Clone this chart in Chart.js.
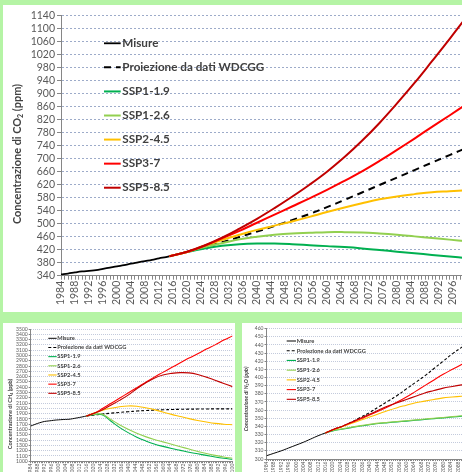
<!DOCTYPE html>
<html>
<head>
<meta charset="utf-8">
<script src="https://cdn.jsdelivr.net/npm/chart.js@4.4.0/dist/chart.umd.min.js"></script>
<style>
  html, body { margin: 0; padding: 0; width: 462px; height: 472px; overflow: hidden; background: #b5f4a5; }
  .panel { position: absolute; background: #ffffff; overflow: hidden; }
  #pCO2 { left: 3px; top: 5px; width: 459px; height: 307px; }
  #pCH4 { left: 3px; top: 323px; width: 232px; height: 149px; }
  #pN2O { left: 242px; top: 323px; width: 220px; height: 149px; }
  canvas { position: absolute; left: 0; top: 0; }
  .soft { filter: blur(0.35px); }
</style>
</head>
<body>
<div class="panel" id="pCO2"><canvas id="cCO2" width="480" height="307"></canvas></div>
<div class="panel" id="pCH4"><canvas id="cCH4" class="soft" width="236" height="160"></canvas></div>
<div class="panel" id="pN2O"><canvas id="cN2O" class="soft" width="250" height="160"></canvas></div>
<script>
// ---- series names ----
const seriesNames = ['Misure', 'Proiezione da dati WDCGG', 'SSP1-1.9', 'SSP1-2.6', 'SSP2-4.5', 'SSP3-7', 'SSP5-8.5'];

// ---- x axis: one tick per year, a label every 4 years ----
const firstYear = 1984;
const lastYear = 2100;
const labelEvery = 4;

// ---- CO2 (ppm) ----
const co2MeasYears = [1984, 1986, 1988, 1990, 1992, 1994, 1996, 1998, 2000, 2002, 2004, 2006, 2008, 2010, 2012, 2014, 2015];
const co2Meas      = [344, 346.5, 350, 353, 355, 357, 361, 365, 369, 372.5, 377, 381, 385, 389, 393.5, 397.5, 400];
const co2ScenYears = [2015, 2020, 2025, 2030, 2035, 2040, 2045, 2050, 2055, 2060, 2065, 2070, 2075, 2080, 2085, 2090, 2095, 2100];
const co2Ssp119 = [400, 413, 424, 432, 437, 439, 439, 437, 434, 431, 428, 424, 419, 414, 409, 404, 399, 394];
const co2Ssp126 = [400, 413, 428, 440, 452, 460, 466, 470, 472, 474, 474, 473, 470, 466, 461, 456, 451, 446];
const co2Ssp245 = [400, 413, 432, 450, 466, 481, 494, 507, 521, 536, 550, 563, 575, 584, 591, 597, 600, 603];
const co2Ssp370 = [400, 413, 432, 455, 478, 503, 528, 553, 578, 604, 632, 661, 693, 727, 762, 798, 833, 869];
const co2Ssp585 = [400, 414, 433, 457, 485, 515, 548, 583, 620, 660, 705, 755, 810, 870, 933, 1000, 1068, 1138];
const co2ProjYears = [2020, 2025, 2030, 2035, 2040, 2045, 2050, 2055, 2060, 2065, 2070, 2075, 2080, 2085, 2090, 2095, 2100];
const co2Proj      = [413, 428, 443, 459, 476, 493, 511, 530, 551, 573, 596, 619, 642, 665, 688, 711, 734];
const co2Ticks = { min: 340, max: 1140, step: 40 };

// ---- CH4 (ppb) ----
const ch4MeasYears = [1984, 1986, 1988, 1990, 1992, 1994, 1996, 1998, 2000, 2002, 2004, 2006, 2008, 2010, 2012, 2014, 2016];
const ch4Meas      = [1665, 1690, 1715, 1735, 1752, 1760, 1768, 1777, 1782, 1787, 1790, 1793, 1803, 1815, 1827, 1840, 1855];
const ch4ScenYears = [2016, 2020, 2025, 2030, 2035, 2040, 2045, 2050, 2055, 2060, 2065, 2070, 2075, 2080, 2085, 2090, 2095, 2100];
const ch4Ssp119 = [1855, 1880, 1880, 1760, 1640, 1540, 1455, 1385, 1325, 1280, 1240, 1205, 1170, 1140, 1110, 1080, 1055, 1035];
const ch4Ssp126 = [1855, 1882, 1890, 1790, 1690, 1605, 1530, 1465, 1410, 1365, 1320, 1275, 1230, 1185, 1145, 1110, 1080, 1055];
const ch4Ssp245 = [1855, 1905, 1960, 2000, 2030, 2045, 2040, 2010, 1975, 1930, 1885, 1845, 1805, 1770, 1740, 1715, 1700, 1690];
const ch4Ssp370 = [1855, 1900, 1990, 2090, 2190, 2290, 2390, 2490, 2590, 2680, 2770, 2860, 2950, 3030, 3120, 3200, 3290, 3370];
const ch4Ssp585 = [1855, 1900, 1970, 2060, 2150, 2250, 2370, 2480, 2570, 2630, 2660, 2675, 2670, 2640, 2590, 2530, 2470, 2410];
const ch4ProjYears = [2016, 2020, 2025, 2030, 2035, 2040, 2045, 2050, 2055, 2060, 2065, 2070, 2075, 2080, 2085, 2090, 2095, 2100];
const ch4Proj      = [1855, 1870, 1890, 1908, 1922, 1936, 1948, 1958, 1966, 1972, 1977, 1981, 1984, 1986, 1988, 1989, 1990, 1990];
const ch4Ticks = { min: 1000, max: 3500, step: 100 };

// ---- N2O (ppb) ----
const n2oMeasYears = [1984, 1988, 1992, 1996, 2000, 2004, 2008, 2012, 2016];
const n2oMeas      = [304, 307, 310, 313.5, 317, 320.5, 324.5, 328.5, 332];
const n2oScenYears = [2016, 2020, 2025, 2030, 2035, 2040, 2045, 2050, 2055, 2060, 2065, 2070, 2075, 2080, 2085, 2090, 2095, 2100];
const n2oSsp119 = [332, 334.5, 336.5, 338.5, 340.5, 342, 343.5, 344.5, 345.5, 346.5, 347.5, 348.5, 349.5, 350.5, 351.5, 352.5, 353.5, 354];
const n2oSsp126 = [332, 335, 337, 339, 341, 342.5, 344, 345, 346, 347, 348, 349, 350, 351, 352, 353, 354, 354.5];
const n2oSsp245 = [332, 335.5, 339.5, 343.5, 347.5, 351.5, 355.5, 359.5, 363, 366, 369, 371, 373, 375, 376, 377, 378, 378];
const n2oSsp370 = [332, 336, 340, 344.5, 349, 354, 359, 364, 370, 376, 383, 390, 397, 404, 410, 416, 422, 428];
const n2oSsp585 = [332, 336, 340, 345, 350, 355, 360, 365, 369, 373, 377, 381, 384, 387, 389, 391, 393, 394];
const n2oProjYears = [2016, 2020, 2025, 2030, 2035, 2040, 2045, 2050, 2055, 2060, 2065, 2070, 2075, 2080, 2085, 2090, 2095, 2100];
const n2oProj      = [332, 336, 340, 345, 351, 357, 364, 371, 378, 386, 394, 402, 411, 420, 429, 437, 445, 453];
const n2oTicks = { min: 300, max: 460, step: 10 };

// ---- look ----
const FONT = 'Lato, "Open Sans", sans-serif';
const colors = ['#000000', '#000000', '#00b050', '#92d050', '#ffc000', '#ff0000', '#c00000'];
const axisColor = '#868686';
const labelColor = '#595959';
const textColor = '#404040';

function pts(xs, ys) { return xs.map((x, i) => ({ x: x, y: ys[i] })); }

function makeDatasets(series, w, dash) {
  return series.map((s, i) => ({
    label: seriesNames[i],
    data: pts(s[0], s[1]),
    borderColor: colors[i],
    borderWidth: i === 0 ? w * 0.9 : w,
    borderDash: i === 1 ? dash : [],
    pointRadius: 0,
    fill: false,
    tension: 0.4,
    order: -i
  }));
}

// legend inside the plot plus the rotated axis title with a subscript
const insideLegend = {
  id: 'insideLegend',
  afterDraw(chart, args, o) {
    const ctx = chart.ctx;
    ctx.save();
    chart.data.datasets.forEach((ds, i) => {
      const y = o.y + i * o.gap;
      ctx.beginPath();
      ctx.setLineDash(ds.borderDash || []);
      ctx.strokeStyle = ds.borderColor;
      ctx.lineWidth = ds.borderWidth;
      ctx.moveTo(o.x, y);
      ctx.lineTo(o.x + o.len, y);
      ctx.stroke();
      ctx.setLineDash([]);
      ctx.fillStyle = textColor;
      ctx.font = 'bold ' + o.size + 'px ' + FONT;
      ctx.textBaseline = 'middle';
      ctx.textAlign = 'left';
      ctx.fillText(ds.label, o.x + o.len + o.textGap, y);
    });
    // axis title
    const t = o.title;
    ctx.translate(t.x, t.y);
    ctx.rotate(-Math.PI / 2);
    const mainFont = (t.italic ? 'italic ' : '') + 'bold ' + t.size + 'px ' + FONT;
    const subFont = (t.italic ? 'italic ' : '') + 'bold ' + (t.size * 0.65) + 'px ' + FONT;
    let total = 0;
    t.parts.forEach(p => { ctx.font = p.sub ? subFont : mainFont; total += ctx.measureText(p.text).width; });
    let cx = -total / 2;
    ctx.fillStyle = textColor;
    ctx.textAlign = 'left';
    ctx.textBaseline = 'middle';
    t.parts.forEach(p => {
      ctx.font = p.sub ? subFont : mainFont;
      ctx.fillText(p.text, cx, p.sub ? t.size * 0.28 : 0);
      cx += ctx.measureText(p.text).width;
    });
    ctx.restore();
  }
};

const yearTicks = [];
for (let y = firstYear; y <= lastYear; y++) yearTicks.push(y);

function build(id, c) {
  return new Chart(document.getElementById(id), {
    type: 'line',
    data: { datasets: c.datasets },
    options: {
      responsive: false,
      animation: false,
      devicePixelRatio: 1,
      layout: { padding: c.padding },
      plugins: { legend: { display: false }, tooltip: { enabled: false }, insideLegend: c.legend },
      scales: {
        x: {
          type: 'linear', min: firstYear, max: lastYear,
          afterBuildTicks: s => { s.ticks = yearTicks.map(v => ({ value: v })); },
          afterFit: s => { s.height = c.xHeight; },
          ticks: {
            autoSkip: false, minRotation: 90, maxRotation: 90, padding: c.xTickPad,
            color: labelColor, font: { family: FONT, size: c.tickSize },
            callback: v => ((v - firstYear) % labelEvery === 0 ? String(v) : '')
          },
          grid: { drawOnChartArea: false, drawTicks: true, tickLength: c.xTickLen, tickColor: axisColor, tickWidth: 1 },
          border: { color: axisColor, width: 1 }
        },
        y: {
          min: c.y.min, max: c.y.max,
          afterBuildTicks: s => {
            const t = [];
            for (let v = c.y.min; v <= c.y.max + 1e-9; v += c.y.step) t.push({ value: v });
            s.ticks = t;
          },
          afterFit: s => { s.width = c.yWidth; },
          ticks: { autoSkip: false, color: labelColor, padding: c.yTickPad, font: { family: FONT, size: c.tickSize }, callback: v => String(v) },
          grid: { color: c.gridColor, lineWidth: 1, tickLength: c.yTickLen, tickColor: axisColor, tickWidth: 1 },
          border: { color: axisColor, width: 1, dash: c.gridDash }
        }
      }
    },
    plugins: [insideLegend]
  });
}

// CO2 chart
build('cCO2', {
  datasets: makeDatasets([
    [co2MeasYears, co2Meas], [co2ProjYears, co2Proj], [co2ScenYears, co2Ssp119], [co2ScenYears, co2Ssp126],
    [co2ScenYears, co2Ssp245], [co2ScenYears, co2Ssp370], [co2ScenYears, co2Ssp585]
  ], 2, [7, 5]),
  padding: { top: 10.7, right: 16, bottom: 0, left: 0 },
  xHeight: 36.3, yWidth: 58, tickSize: 10.5, xTickPad: 1, xTickLen: 4, yTickPad: 2, yTickLen: 4,
  gridColor: '#9dabc9', gridDash: [2, 2], y: co2Ticks,
  legend: { x: 101, y: 38.3, gap: 24.07, len: 16.7, textGap: 1.6, size: 11.7,
    title: { x: 14.5, y: 149, size: 10.9, italic: false,
      parts: [{ text: 'Concentrazione di CO' }, { text: '2', sub: true }, { text: ' (ppm)' }] } }
});

// CH4 chart
build('cCH4', {
  datasets: makeDatasets([
    [ch4MeasYears, ch4Meas], [ch4ProjYears, ch4Proj], [ch4ScenYears, ch4Ssp119], [ch4ScenYears, ch4Ssp126],
    [ch4ScenYears, ch4Ssp245], [ch4ScenYears, ch4Ssp370], [ch4ScenYears, ch4Ssp585]
  ], 1.1, [3, 2]),
  padding: { top: 6, right: 6, bottom: 0, left: 0 },
  xHeight: 21.8, yWidth: 27.7, tickSize: 5, xTickPad: 0.5, xTickLen: 2, yTickPad: 1, yTickLen: 2,
  gridColor: '#c3cadc', gridDash: [1, 1], y: ch4Ticks,
  legend: { x: 45.3, y: 15.3, gap: 9.17, len: 8.4, textGap: 0.6, size: 5.7,
    title: { x: 7, y: 91, size: 5.6, italic: false,
      parts: [{ text: 'Concentrazione di CH' }, { text: '4', sub: true }, { text: ' (ppb)' }] } }
});

// N2O chart
build('cN2O', {
  datasets: makeDatasets([
    [n2oMeasYears, n2oMeas], [n2oProjYears, n2oProj], [n2oScenYears, n2oSsp119], [n2oScenYears, n2oSsp126],
    [n2oScenYears, n2oSsp245], [n2oScenYears, n2oSsp370], [n2oScenYears, n2oSsp585]
  ], 1.1, [3, 2]),
  padding: { top: 5.6, right: 12, bottom: 0, left: 0 },
  xHeight: 24, yWidth: 24.5, tickSize: 5, xTickPad: 0.5, xTickLen: 2, yTickPad: 1, yTickLen: 2,
  gridColor: '#c3cadc', gridDash: [1, 1], y: n2oTicks,
  legend: { x: 44.7, y: 18, gap: 9.72, len: 9.3, textGap: 0.7, size: 5.7,
    title: { x: 4.7, y: 76, size: 5.4, italic: true,
      parts: [{ text: 'Concentrazione di N' }, { text: '2', sub: true }, { text: 'O (ppb)' }] } }
});
</script>
</body>
</html>
